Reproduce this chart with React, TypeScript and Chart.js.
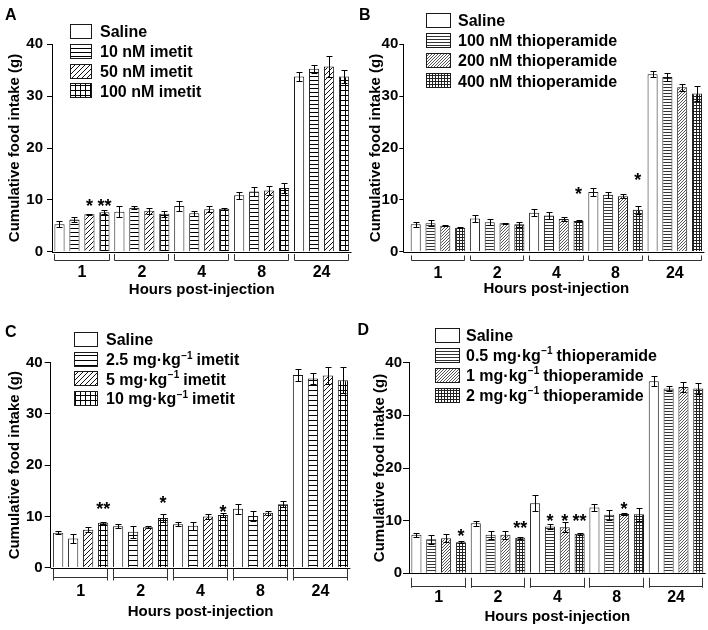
import React, { useEffect, useRef } from 'react';
import { Chart, registerables } from 'chart.js';

Chart.register(...registerables);

const FONT = '"Liberation Sans", Arial, Helvetica, sans-serif';
const W = 354;
const H = 315;

// ---------- data ----------
const hours = ['1', '2', '4', '8', '24'];

// Panel A
const labelsA = ['Saline', '10 nM imetit', '50 nM imetit', '100 nM imetit'];
const salineA = [5.3, 7.7, 8.8, 10.9, 33.8];
const imetit10nM = [6.2, 8.5, 7.4, 11.6, 35.3];
const imetit50nM = [7.2, 7.9, 8.2, 11.8, 35.7];
const imetit100nM = [7.6, 7.3, 8.3, 12.3, 33.8];
const salineAErr = [0.6, 1.1, 1.0, 0.7, 0.8];
const imetit10nMErr = [0.5, 0.3, 0.5, 0.9, 0.8];
const imetit50nMErr = [0.1, 0.55, 0.6, 0.8, 2.0];
const imetit100nMErr = [0.4, 0.55, 0.2, 1.0, 1.3];
const starsA = [
  { group: 0, series: 2, text: '*', level: 9.7 },
  { group: 0, series: 3, text: '**', level: 9.7 },
];

// Panel B
const labelsB = ['Saline', '100 nM thioperamide', '200 nM thioperamide', '400 nM thioperamide'];
const salineB = [5.3, 6.4, 7.5, 11.5, 34.2];
const thio100nM = [5.5, 5.7, 7.0, 11.0, 33.7];
const thio200nM = [5.0, 5.5, 6.3, 10.7, 31.7];
const thio400nM = [4.6, 5.3, 5.9, 8.1, 30.5];
const salineBErr = [0.5, 0.7, 0.7, 0.75, 0.6];
const thio100nMErr = [0.6, 0.6, 0.7, 0.6, 0.8];
const thio200nMErr = [0.1, 0.1, 0.4, 0.35, 0.7];
const thio400nMErr = [0.1, 0.45, 0.2, 0.8, 1.4];
const starsB = [
  { group: 2, series: 3, text: '*', level: 11.9 },
  { group: 3, series: 3, text: '*', level: 14.7 },
];

// Panel C
const labelsC = ['Saline', '2.5 mg·kg⁻¹ imetit', '5 mg·kg⁻¹ imetit', '10 mg·kg⁻¹ imetit'];
const salineC = [6.8, 8.1, 8.5, 11.5, 37.6];
const imetit2_5mg = [5.7, 7.0, 8.2, 10.1, 36.9];
const imetit5mg = [7.4, 7.9, 10.0, 10.7, 37.5];
const imetit10mg = [8.75, 9.7, 10.3, 12.4, 36.6];
const salineCErr = [0.3, 0.35, 0.45, 1.0, 1.1];
const imetit2_5mgErr = [0.9, 1.15, 0.8, 0.9, 1.1];
const imetit5mgErr = [0.45, 0.25, 0.55, 0.35, 1.6];
const imetit10mgErr = [0.2, 0.8, 0.45, 0.55, 2.6];
const starsC = [
  { group: 0, series: 3, text: '**', level: 12.4 },
  { group: 1, series: 3, text: '*', level: 13.55 },
  { group: 2, series: 3, text: '*', level: 11.8 },
];

// Panel D
const labelsD = ['Saline', '0.5 mg·kg⁻¹ thioperamide', '1 mg·kg⁻¹ thioperamide', '2 mg·kg⁻¹ thioperamide'];
const salineD = [7.3, 9.5, 13.3, 12.5, 36.5];
const thio0_5mg = [6.45, 7.3, 8.9, 11.1, 35.1];
const thio1mg = [6.65, 7.3, 8.75, 11.25, 35.4];
const thio2mg = [5.9, 6.75, 7.5, 11.2, 35.1];
const salineDErr = [0.35, 0.5, 1.5, 0.6, 0.95];
const thio0_5mgErr = [0.85, 0.8, 0.4, 1.0, 0.55];
const thio1mgErr = [0.8, 0.8, 1.0, 0.2, 0.95];
const thio2mgErr = [0.15, 0.2, 0.2, 1.25, 0.95];
const starsD = [
  { group: 0, series: 3, text: '*', level: 7.9 },
  { group: 1, series: 3, text: '**', level: 9.5 },
  { group: 2, series: 1, text: '*', level: 10.7 },
  { group: 2, series: 2, text: '*', level: 10.7 },
  { group: 2, series: 3, text: '**', level: 10.7 },
  { group: 3, series: 2, text: '*', level: 13.1 },
];

const yTicks = [0, 10, 20, 30, 40];

// ---------- styling / layout ----------
type Star = { group: number; series: number; text: string; level: number };
type Panel = {
  letter: string;
  letterPos: [number, number];
  labels: string[];
  series: number[][];
  errors: number[][];
  stars: Star[];
  fill: { h: [number, string]; d: [number, string]; g: [number, number, string] };
  plain?: [number, number][];
  L: {
    axisX: number; top: number; bottom: number; right: number; inset: number;
    yTitleX: number; tickLen: number; tickPad: number; xLabelY: number; xTitleY: number;
    bracketY: number; bUp: number; bDown: number;
  };
  legend: { x: number; w: number; y0: number; dy: number; textX: number };
  pos: [number, number];
};

const panels: Panel[] = [
  {
    letter: 'A', letterPos: [5, 8.3], pos: [0, 0],
    labels: labelsA,
    series: [salineA, imetit10nM, imetit50nM, imetit100nM],
    errors: [salineAErr, imetit10nMErr, imetit50nMErr, imetit100nMErr],
    stars: starsA,
    fill: { h: [4, '#000'], d: [5, '#111'], g: [5, 5, '#000'] },
    L: { axisX: 52, top: 44.3, bottom: 251.7, right: 351.5, inset: 0, yTitleX: 14.5, tickLen: 5, tickPad: 4,
      xLabelY: 273, xTitleY: 290, bracketY: 260, bUp: 6.5, bDown: 0 },
    legend: { x: 70, w: 22, y0: 31.7, dy: 19.7, textX: 100 },
  },
  {
    letter: 'B', letterPos: [5, 8.3], pos: [354, 0],
    labels: labelsB,
    series: [salineB, thio100nM, thio200nM, thio400nM],
    errors: [salineBErr, thio100nMErr, thio200nMErr, thio400nMErr],
    stars: starsB,
    fill: { h: [3, '#333'], d: [3, '#555'], g: [3, 3, '#222'] },
    L: { axisX: 49.3, top: 44.3, bottom: 251.7, right: 350.4, inset: 5, yTitleX: 22, tickLen: 4, tickPad: 1,
      xLabelY: 274, xTitleY: 289, bracketY: 260, bUp: 5, bDown: 0 },
    legend: { x: 72, w: 25, y0: 20, dy: 20.3, textX: 104 },
  },
  {
    letter: 'C', letterPos: [5, 10], pos: [0, 315],
    labels: labelsC,
    series: [salineC, imetit2_5mg, imetit5mg, imetit10mg],
    errors: [salineCErr, imetit2_5mgErr, imetit5mgErr, imetit10mgErr],
    stars: starsC,
    fill: { h: [5, '#000'], d: [5, '#111'], g: [5, 5, '#000'] },
    plain: [[1, 0]],
    L: { axisX: 50.7, top: 47.7, bottom: 252.7, right: 350.4, inset: 0, yTitleX: 15.3, tickLen: 6, tickPad: 2,
      xLabelY: 276.7, xTitleY: 296.7, bracketY: 262, bUp: 9, bDown: 3 },
    legend: { x: 74, w: 24, y0: 24.5, dy: 19.7, textX: 106 },
  },
  {
    letter: 'D', letterPos: [3.5, 8.3], pos: [354, 315],
    labels: labelsD,
    series: [salineD, thio0_5mg, thio1mg, thio2mg],
    errors: [salineDErr, thio0_5mgErr, thio1mgErr, thio2mgErr],
    stars: starsD,
    fill: { h: [3, '#333'], d: [3, '#555'], g: [3, 3, '#222'] },
    L: { axisX: 55, top: 47.7, bottom: 258.3, right: 351.7, inset: 0, yTitleX: 25.5, tickLen: 6, tickPad: 1,
      xLabelY: 283, xTitleY: 301.7, bracketY: 270.7, bUp: 8.7, bDown: 1.3 },
    legend: { x: 81, w: 25, y0: 20, dy: 20, textX: 112 },
  },
];

// ---------- patterns ----------
function makeTile(w: number, h: number, draw: (g: CanvasRenderingContext2D) => void) {
  const c = document.createElement('canvas');
  c.width = w;
  c.height = h;
  const g = c.getContext('2d') as CanvasRenderingContext2D;
  g.fillStyle = '#fff';
  g.fillRect(0, 0, w, h);
  draw(g);
  return c;
}

function makeFills(ctx: CanvasRenderingContext2D, f: Panel['fill']) {
  const [hs, hc] = f.h;
  const h = ctx.createPattern(makeTile(hs, hs, (g) => { g.fillStyle = hc; g.fillRect(0, 0, hs, 1); }), 'repeat');
  const [ds, dc] = f.d;
  const d = ctx.createPattern(makeTile(ds, ds, (g) => {
    g.strokeStyle = dc;
    g.lineWidth = 1;
    g.beginPath();
    g.moveTo(0, ds); g.lineTo(ds, 0);
    g.moveTo(-1, 1); g.lineTo(1, -1);
    g.moveTo(ds - 1, ds + 1); g.lineTo(ds + 1, ds - 1);
    g.stroke();
  }), 'repeat');
  const [gx, gy, gc] = f.g;
  const gr = ctx.createPattern(makeTile(gx, gy, (g) => {
    g.fillStyle = gc;
    g.fillRect(0, 0, gx, 1);
    g.fillRect(0, 0, 1, gy);
  }), 'repeat');
  return ['#ffffff', h, d, gr] as any[];
}

function drawRich(ctx: CanvasRenderingContext2D, text: string, x: number, yBase: number, size: number) {
  const parts = text.split('⁻¹');
  let cx = x;
  ctx.textAlign = 'left';
  ctx.textBaseline = 'alphabetic';
  parts.forEach((part, i) => {
    ctx.font = `bold ${size}px ${FONT}`;
    ctx.fillText(part, cx, yBase);
    cx += ctx.measureText(part).width;
    if (i < parts.length - 1) {
      const s = Math.round(size * 0.62);
      ctx.font = `bold ${s}px ${FONT}`;
      ctx.fillText('−1', cx + 0.5, yBase - size * 0.4);
      cx += ctx.measureText('−1').width;
    }
  });
}

function PanelChart({ p }: { p: Panel }) {
  const ref = useRef<HTMLCanvasElement | null>(null);
  useEffect(() => {
    const canvas = ref.current as HTMLCanvasElement;
    const ctx0 = canvas.getContext('2d') as CanvasRenderingContext2D;
    const fills = makeFills(ctx0, p.fill);
    const L = p.L;

    const datasets = p.series.map((vals, si) => {
      let bg: any = fills[si];
      if (p.plain && p.plain.some(([s]) => s === si)) {
        bg = vals.map((_, gi) => (p.plain!.some(([s, g]) => s === si && g === gi) ? '#ffffff' : fills[si]));
      }
      return {
        label: p.labels[si],
        data: vals,
        backgroundColor: bg,
        borderColor: '#1a1a1a',
        borderWidth: 1,
        barPercentage: 0.68,
        categoryPercentage: 1,
      };
    });

    const overlay = {
      id: 'overlay' + p.letter,
      afterLayout(chart: any) {
        const xs = chart.scales.x;
        if (L.inset) {
          xs.left += L.inset;
          xs.configure();
        }
      },
      afterDatasetsDraw(chart: any) {
        const ctx = chart.ctx as CanvasRenderingContext2D;
        const ys = chart.scales.y;
        ctx.save();
        ctx.strokeStyle = '#000';
        ctx.lineWidth = 1;
        p.series.forEach((vals, si) => {
          const meta = chart.getDatasetMeta(si);
          meta.data.forEach((el: any, gi: number) => {
            const v = vals[gi];
            const e = p.errors[si][gi];
            const x = Math.round(el.x) + 0.5;
            const yT = Math.round(ys.getPixelForValue(v + e)) + 0.5;
            const yB = Math.round(ys.getPixelForValue(v - e)) + 0.5;
            ctx.beginPath();
            ctx.moveTo(x, yT); ctx.lineTo(x, yB);
            ctx.moveTo(x - 3, yT); ctx.lineTo(x + 3, yT);
            ctx.moveTo(x - 3, yB); ctx.lineTo(x + 3, yB);
            ctx.stroke();
          });
        });
        // significance stars
        ctx.fillStyle = '#000';
        ctx.font = `bold 18px ${FONT}`;
        ctx.textAlign = 'center';
        ctx.textBaseline = 'alphabetic';
        p.stars.forEach((s) => {
          const el = chart.getDatasetMeta(s.series).data[s.group];
          const y = ys.getPixelForValue(s.level) + 0.575 * 18;
          ctx.fillText(s.text, el.x, y);
        });
        ctx.restore();
      },
      afterDraw(chart: any) {
        const ctx = chart.ctx as CanvasRenderingContext2D;
        const area = chart.chartArea;
        ctx.save();
        ctx.strokeStyle = '#000';
        ctx.lineWidth = 1;
        // baseline
        const by = Math.round(area.bottom) + 0.5;
        ctx.beginPath();
        ctx.moveTo(area.left, by);
        ctx.lineTo(area.right, by);
        ctx.stroke();
        // group brackets
        const first = chart.getDatasetMeta(0).data;
        const last = chart.getDatasetMeta(p.series.length - 1).data;
        ctx.strokeStyle = '#333';
        hours.forEach((_, gi) => {
          const a = first[gi];
          const b = last[gi];
          const x1 = Math.round(a.x - a.width / 2) + 0.5;
          const x2 = Math.round(b.x + b.width / 2) - 0.5;
          const yl = Math.round(L.bracketY) + 0.5;
          ctx.beginPath();
          ctx.moveTo(x1, yl - L.bUp); ctx.lineTo(x1, yl + L.bDown);
          ctx.moveTo(x1, yl); ctx.lineTo(x2, yl);
          ctx.moveTo(x2, yl - L.bUp); ctx.lineTo(x2, yl + L.bDown);
          ctx.stroke();
        });
        // legend
        const lg = p.legend;
        p.labels.forEach((label, i) => {
          const cy = lg.y0 + i * lg.dy;
          const top = Math.round(cy - 7.5);
          ctx.fillStyle = fills[i];
          ctx.fillRect(lg.x, top, lg.w, 15);
          ctx.strokeStyle = '#1a1a1a';
          ctx.strokeRect(lg.x + 0.5, top + 0.5, lg.w - 1, 14);
          ctx.fillStyle = '#000';
          drawRich(ctx, label, lg.textX, cy + 0.358 * 16, 16);
        });
        // panel letter
        ctx.fillStyle = '#000';
        ctx.font = `bold 16px ${FONT}`;
        ctx.textAlign = 'left';
        ctx.textBaseline = 'alphabetic';
        ctx.fillText(p.letter, p.letterPos[0], p.letterPos[1] + 11.5);
        ctx.restore();
      },
    };

    const chart = new Chart(canvas, {
      type: 'bar',
      data: { labels: hours, datasets },
      options: {
        responsive: false,
        animation: false,
        devicePixelRatio: 1,
        layout: { padding: { left: 0, top: L.top, right: W - L.right, bottom: 0 } },
        plugins: { legend: { display: false }, tooltip: { enabled: false } },
        scales: {
          x: {
            type: 'category',
            offset: true,
            grid: { display: false, drawTicks: false },
            border: { display: false },
            ticks: {
              color: '#000',
              padding: L.xLabelY - L.bottom - 9.6,
              font: { family: FONT, size: 16, weight: 'bold' },
              maxRotation: 0,
              autoSkip: false,
            },
            title: {
              display: true,
              text: 'Hours post-injection',
              color: '#000',
              font: { family: FONT, size: 15, weight: 'bold' },
              padding: { top: 0, bottom: H - L.xTitleY - 9 },
            },
            afterFit: (s: any) => { s.height = H - L.bottom; },
          },
          y: {
            min: 0,
            max: 40,
            afterBuildTicks: (s: any) => { s.ticks = yTicks.map((v) => ({ value: v })); },
            grid: { display: true, drawOnChartArea: false, drawTicks: true, tickLength: L.tickLen, color: '#000', tickColor: '#000' },
            border: { display: true, color: '#000', width: 1 },
            ticks: {
              color: '#000',
              padding: L.tickPad,
              font: { family: FONT, size: 15, weight: 'bold' },
            },
            title: {
              display: true,
              text: 'Cumulative food intake (g)',
              color: '#000',
              font: { family: FONT, size: 15, weight: 'bold' },
              padding: { top: L.yTitleX - 9, bottom: 0 },
            },
            afterFit: (s: any) => { s.width = L.axisX; },
          },
        },
      } as any,
      plugins: [overlay],
    });
    return () => chart.destroy();
  }, [p]);

  return (
    <canvas
      ref={ref}
      width={W}
      height={H}
      style={{ position: 'absolute', left: p.pos[0], top: p.pos[1], width: W, height: H, display: 'block' }}
    />
  );
}

export default function App() {
  return (
    <div style={{ position: 'absolute', left: 0, top: 0, width: 708, height: 630, background: '#fff', overflow: 'hidden' }}>
      {panels.map((p) => (
        <PanelChart key={p.letter} p={p} />
      ))}
    </div>
  );
}
